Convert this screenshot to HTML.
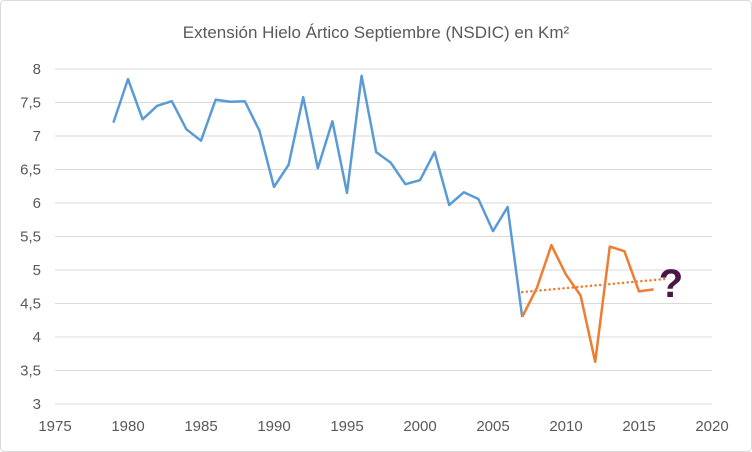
<!DOCTYPE html>
<html><head><meta charset="utf-8"><style>
html,body{margin:0;padding:0;background:#fff;}
svg{display:block;font-family:"Liberation Sans",sans-serif;}
</style></head><body>
<svg id="s" width="752" height="452" viewBox="0 0 752 452">
<rect x="0.5" y="0.5" width="751" height="451" rx="4" fill="#fff" stroke="#d9d9d9"/>
<text x="376" y="38" text-anchor="middle" font-size="17" fill="#595959">Extensión Hielo Ártico Septiembre (NSDIC) en Km²</text>
<g id="g"></g>
</svg>
<script>
var g=document.getElementById('g'),h='';
function X(y){return 55+(y-1975)*14.6;}
function Y(v){return 404-(v-3)*67;}
for(var v=3;v<=8.001;v+=0.5){var y=Y(v);
h+='<line x1="55" x2="712" y1="'+y+'" y2="'+y+'" stroke="#d9d9d9" stroke-width="1"/>';
h+='<text x="41" y="'+(y+5)+'" text-anchor="end" font-size="15" fill="#595959">'+(v%1?String(v).replace('.',','):v)+'</text>';}
for(var yr=1975;yr<=2020;yr+=5){h+='<text x="'+X(yr)+'" y="431" text-anchor="middle" font-size="15" fill="#595959">'+yr+'</text>';}
var d=[7.2,7.85,7.25,7.45,7.52,7.1,6.93,7.54,7.51,7.52,7.08,6.24,6.57,7.58,6.52,7.22,6.15,7.9,6.76,6.6,6.28,6.34,6.76,5.97,6.16,6.06,5.58,5.94,4.3,4.73,5.37,4.93,4.62,3.63,5.35,5.28,4.68,4.71];
var b=[],o=[];
for(var i=0;i<d.length;i++){var yr=1979+i,p=X(yr).toFixed(1)+','+Y(d[i]).toFixed(1);if(yr<=2006)b.push(p);if(yr>=2007)o.push(p);}
h+='<polyline points="'+b.join(' ')+' '+X(2007).toFixed(1)+','+Y(4.3).toFixed(1)+'" fill="none" stroke="#5b9bd5" stroke-width="2.5" stroke-linejoin="round"/>';
h+='<line x1="'+X(2007)+'" y1="'+Y(4.67)+'" x2="'+X(2017)+'" y2="'+Y(4.87)+'" stroke="#ed7d31" stroke-width="2.5" stroke-dasharray="0.1 4.5" stroke-linecap="round"/>';
h+='<polyline points="'+o.join(' ')+'" fill="none" stroke="#ed7d31" stroke-width="2.5" stroke-linejoin="round"/>';
h+='<text x="671" y="297" text-anchor="middle" font-size="40" font-weight="bold" fill="#4b1545">?</text>';
g.innerHTML=h;
</script>
</body></html>
